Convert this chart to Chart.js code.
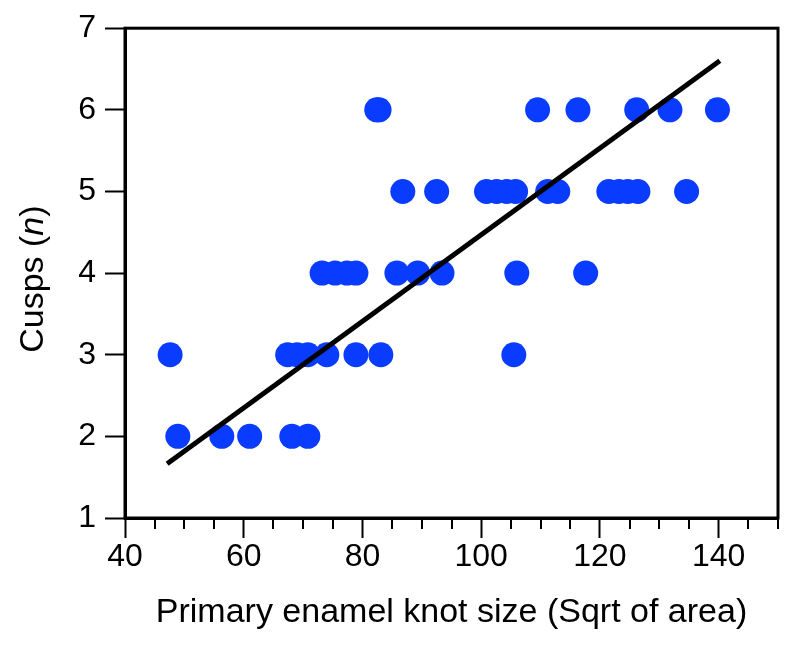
<!DOCTYPE html>
<html>
<head>
<meta charset="utf-8">
<script src="https://cdn.jsdelivr.net/npm/chart.js@4/dist/chart.umd.min.js"></script>
<style>
  html, body { margin: 0; padding: 0; background: #fff; }
  #wrap { width: 800px; height: 653px; }
</style>
</head>
<body>
<div id="wrap"><canvas id="c" width="800" height="653"></canvas></div>
<script>
// Primary enamel knot size (x) for each cusp count (y)
const cuspLevels = [2, 3, 4, 5, 6];
const sizes2 = [48.9, 56.3, 61.0, 68.1, 70.8];
const sizes3 = [47.6, 67.4, 69.0, 70.8, 74.0, 78.9, 83.1, 105.5];
const sizes4 = [73.2, 75.4, 77.4, 78.9, 85.8, 89.3, 93.4, 106.0, 117.6];
const sizes5 = [86.8, 92.5, 100.9, 102.6, 104.3, 105.8, 111.2, 112.9, 121.5, 123.2, 124.7, 126.4, 134.6];
const sizes6 = [82.4, 82.8, 109.5, 116.3, 126.2, 131.8, 139.8];
// regression line end points
const fitX = [47.1, 140.2];
const fitY = [1.665, 6.6];
// axis ticks
const xMajorTicks = [40, 60, 80, 100, 120, 140];
const xMinorTicks = [45, 50, 55, 65, 70, 75, 85, 90, 95, 105, 110, 115, 125, 130, 135, 145, 150];
const yTicks = [1, 2, 3, 4, 5, 6, 7];

const sizeGroups = [sizes2, sizes3, sizes4, sizes5, sizes6];
const scatterPoints = [];
sizeGroups.forEach((g, i) => g.forEach(v => scatterPoints.push({ x: v, y: cuspLevels[i] })));
const linePoints = fitX.map((v, i) => ({ x: v, y: fitY[i] }));

const FONT = "'Liberation Sans', Arial, Helvetica, sans-serif";

const framePlugin = {
  id: 'frame',
  afterDatasetsDraw(chart) {
    const { ctx, chartArea: a, scales } = chart;
    ctx.save();
    ctx.strokeStyle = '#000';
    ctx.lineWidth = 3;
    ctx.strokeRect(a.left, a.top, a.right - a.left, a.bottom - a.top);
    // minor x ticks
    ctx.lineWidth = 2;
    ctx.beginPath();
    xMinorTicks.forEach(v => {
      const px = Math.round(scales.x.getPixelForValue(v));
      ctx.moveTo(px, a.bottom);
      ctx.lineTo(px, a.bottom + 11);
    });
    ctx.stroke();
    // y axis title with italic n
    const cx = 34, cy = (a.top + a.bottom) / 2 + 6;
    ctx.translate(cx, cy);
    ctx.rotate(-Math.PI / 2);
    ctx.fillStyle = '#000';
    ctx.textBaseline = 'middle';
    const normal = "34px " + FONT, italic = "italic 34px " + FONT;
    const parts = [["Cusps (", normal], ["n", italic], [")", normal]];
    let total = 0;
    parts.forEach(p => { ctx.font = p[1]; total += ctx.measureText(p[0]).width; });
    let x0 = -total / 2;
    ctx.textAlign = 'left';
    parts.forEach(p => { ctx.font = p[1]; ctx.fillText(p[0], x0, 0); x0 += ctx.measureText(p[0]).width; });
    ctx.restore();
  }
};

new Chart(document.getElementById('c'), {
  data: {
    datasets: [
      {
        type: 'line',
        data: linePoints,
        borderColor: '#000',
        borderWidth: 5,
        pointRadius: 0,
        fill: false,
        order: 0
      },
      {
        type: 'scatter',
        data: scatterPoints,
        backgroundColor: '#0a3cff',
        borderWidth: 0,
        pointRadius: 12.5,
        pointHoverRadius: 12.5,
        order: 1
      }
    ]
  },
  options: {
    responsive: false,
    animation: false,
    events: [],
    layout: { padding: { top: 22, right: 22, left: 0, bottom: 0 } },
    plugins: { legend: { display: false }, tooltip: { enabled: false } },
    scales: {
      x: {
        type: 'linear',
        min: 40, max: 150,
        afterBuildTicks: s => { s.ticks = xMajorTicks.map(v => ({ value: v })); },
        afterFit: s => { s.height = 135; },
        grid: { drawOnChartArea: false, tickLength: 20, tickWidth: 2, tickColor: '#000' },
        border: { display: true, color: '#000', width: 3 },
        ticks: { color: '#000', font: { family: FONT, size: 32 }, padding: 0, maxRotation: 0, autoSkip: false },
        title: { display: true, text: 'Primary enamel knot size (Sqrt of area)', color: '#000', font: { family: FONT, size: 34 }, padding: { top: 0, bottom: 20 } }
      },
      y: {
        type: 'linear',
        min: 1, max: 7,
        afterBuildTicks: s => { s.ticks = yTicks.map(v => ({ value: v })); },
        afterFit: s => { s.width = 125; },
        grid: { drawOnChartArea: false, tickLength: 20, tickWidth: 2, tickColor: '#000' },
        border: { display: true, color: '#000', width: 3 },
        ticks: { color: '#000', font: { family: FONT, size: 32 }, padding: 9 }
      }
    }
  },
  plugins: [framePlugin]
});
</script>
</body>
</html>
